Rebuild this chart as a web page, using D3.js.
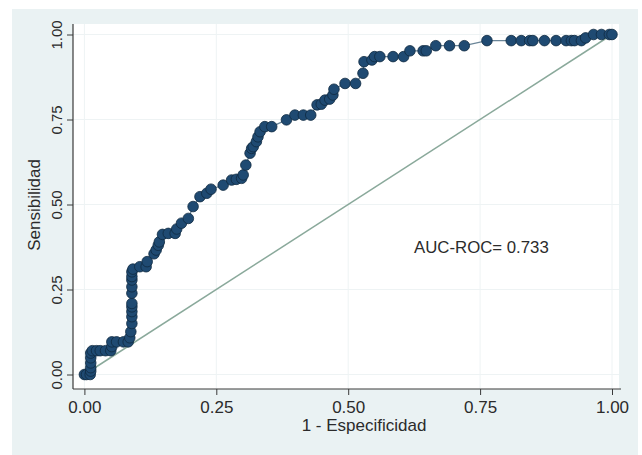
<!DOCTYPE html>
<html>
<head>
  <meta charset="utf-8">
  <title>ROC</title>
  <style>
    body { margin: 0; background: #fff; }
    text { font-family: "Liberation Sans", Arial, sans-serif; fill: #2b2b2b; }
    .tick line { stroke: #3a3a3a; }
  </style>
</head>
<body>
  <svg width="642" height="455"></svg>

<script src="https://cdn.jsdelivr.net/npm/d3@7/dist/d3.min.js"></script>
<script>
  // 1 - especificidad
  var fpr = [0.000, 0.004, 0.011, 0.012, 0.012, 0.012, 0.012, 0.012, 0.015, 0.023,
             0.030, 0.040, 0.050, 0.052, 0.052, 0.061, 0.074, 0.083, 0.086, 0.088,
             0.090, 0.090, 0.090, 0.090, 0.090, 0.090, 0.090, 0.090, 0.090, 0.090,
             0.092, 0.105, 0.117, 0.119, 0.132, 0.136, 0.140, 0.142, 0.148, 0.159,
             0.172, 0.175, 0.184, 0.197, 0.206, 0.219, 0.232, 0.240, 0.263, 0.279,
             0.288, 0.298, 0.301, 0.306, 0.314, 0.317, 0.320, 0.326, 0.329, 0.333,
             0.342, 0.355, 0.383, 0.399, 0.415, 0.429, 0.441, 0.449, 0.456, 0.465,
             0.471, 0.473, 0.494, 0.514, 0.528, 0.530, 0.545, 0.550, 0.560, 0.585,
             0.605, 0.617, 0.642, 0.648, 0.666, 0.692, 0.720, 0.763, 0.809, 0.828,
             0.844, 0.850, 0.872, 0.894, 0.913, 0.923, 0.929, 0.942, 0.950, 0.965,
             0.980, 0.995, 1.000];
  // sensibilidad
  var tpr = [0.000, 0.000, 0.000, 0.010, 0.020, 0.034, 0.049, 0.063, 0.070, 0.070,
             0.070, 0.070, 0.070, 0.082, 0.096, 0.096, 0.096, 0.096, 0.108, 0.126,
             0.150, 0.170, 0.185, 0.199, 0.209, 0.239, 0.258, 0.278, 0.288, 0.302,
             0.310, 0.317, 0.317, 0.332, 0.355, 0.366, 0.380, 0.390, 0.412, 0.415,
             0.415, 0.428, 0.445, 0.459, 0.494, 0.523, 0.533, 0.545, 0.557, 0.572,
             0.574, 0.577, 0.587, 0.616, 0.651, 0.665, 0.670, 0.685, 0.699, 0.714,
             0.729, 0.729, 0.749, 0.763, 0.763, 0.763, 0.793, 0.795, 0.807, 0.810,
             0.822, 0.839, 0.856, 0.856, 0.886, 0.920, 0.925, 0.935, 0.935, 0.935,
             0.935, 0.952, 0.952, 0.952, 0.967, 0.967, 0.967, 0.982, 0.982, 0.982,
             0.982, 0.982, 0.982, 0.982, 0.982, 0.982, 0.982, 0.982, 0.990, 1.000,
             1.000, 1.000, 1.000];

  var ticks = [0, 0.25, 0.5, 0.75, 1];
  var auc = 0.733;

  var svg = d3.select("svg");

  // graph region and plot region
  svg.append("rect")
      .attr("x", 12).attr("y", 9)
      .attr("width", 626).attr("height", 446)
      .attr("fill", "#eaf2f3");

  var plot = {left: 73, right: 619, top: 24, bottom: 389};

  svg.append("rect")
      .attr("x", plot.left).attr("y", plot.top)
      .attr("width", plot.right - plot.left).attr("height", plot.bottom - plot.top)
      .attr("fill", "#fff");

  var x = d3.scaleLinear().domain([0, 1]).range([84.4, 612]),
      y = d3.scaleLinear().domain([0, 1]).range([374.5, 34.5]);

  // grid
  svg.append("g").selectAll("line")
    .data(ticks)
    .enter().append("line")
      .attr("x1", plot.left).attr("x2", plot.right)
      .attr("y1", function(d) { return y(d); })
      .attr("y2", function(d) { return y(d); })
      .attr("stroke", "#eef3f4");

  svg.append("g").selectAll("line")
    .data(ticks)
    .enter().append("line")
      .attr("y1", plot.top).attr("y2", plot.bottom)
      .attr("x1", function(d) { return x(d); })
      .attr("x2", function(d) { return x(d); })
      .attr("stroke", "#eef3f4");

  // axes
  var xAxis = svg.append("g")
      .attr("transform", "translate(0," + plot.bottom + ")")
      .call(d3.axisBottom(x).tickValues(ticks).tickFormat(d3.format(".2f")).tickSizeOuter(0).tickSize(6).tickPadding(6));
  xAxis.select(".domain").remove();
  xAxis.selectAll("text").style("font-size", "17px").attr("fill", "#2b2b2b");
  svg.append("line")
      .attr("x1", plot.left).attr("x2", plot.right + 2)
      .attr("y1", plot.bottom).attr("y2", plot.bottom)
      .attr("stroke", "#3a3a3a").attr("stroke-width", 1.2);

  var yAxis = svg.append("g")
      .attr("transform", "translate(" + plot.left + ",0)")
      .call(d3.axisLeft(y).tickValues(ticks).tickFormat(d3.format(".2f")).tickSizeOuter(0).tickSize(6));
  yAxis.select(".domain").remove();
  yAxis.selectAll("text")
      .style("font-size", "15px")
      .attr("fill", "#2b2b2b")
      .attr("text-anchor", "middle")
      .attr("x", 0).attr("dy", 0)
      .attr("transform", "translate(-11,0) rotate(-90)");
  svg.append("line")
      .attr("x1", plot.left).attr("x2", plot.left)
      .attr("y1", plot.top).attr("y2", plot.bottom)
      .attr("stroke", "#3a3a3a").attr("stroke-width", 1.2);

  // titles
  svg.append("text")
      .attr("x", 364).attr("y", 431)
      .attr("text-anchor", "middle")
      .style("font-size", "17px")
      .text("1 - Especificidad");

  svg.append("text")
      .attr("transform", "translate(40,205) rotate(-90)")
      .attr("text-anchor", "middle")
      .style("font-size", "17px")
      .text("Sensibilidad");

  // reference line
  svg.append("line")
      .attr("x1", x(0)).attr("y1", y(0))
      .attr("x2", x(1)).attr("y2", y(1))
      .attr("stroke", "#8aa99b").attr("stroke-width", 1.5);

  var pts = fpr.map(function(d, i) { return {fp: d, tp: tpr[i]}; });

  var line = d3.line()
      .x(function(d) { return x(d.fp); })
      .y(function(d) { return y(d.tp); });

  svg.append("path")
      .datum(pts)
      .attr("d", line)
      .attr("fill", "none")
      .attr("stroke", "#6a8598")
      .attr("stroke-width", 1.3);

  svg.append("g").selectAll("circle")
    .data(pts)
    .enter().append("circle")
      .attr("cx", function(d) { return x(d.fp); })
      .attr("cy", function(d) { return y(d.tp); })
      .attr("r", 5.3)
      .attr("fill", "#1f4a72")
      .attr("stroke", "#0f2a40")
      .attr("stroke-width", 0.8);

  svg.append("text")
      .attr("x", 414).attr("y", 253)
      .style("font-size", "16.8px")
      .text("AUC-ROC= " + auc);
</script>
</body>
</html>
